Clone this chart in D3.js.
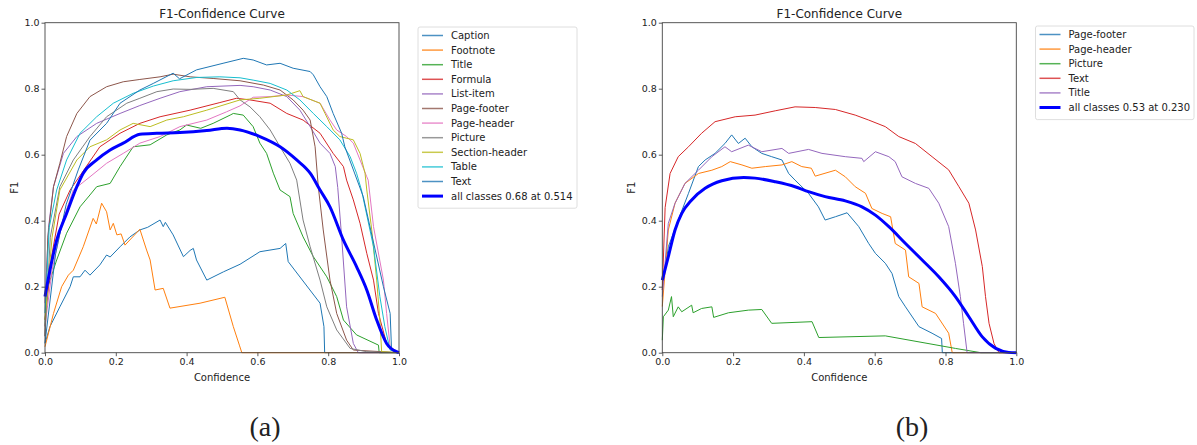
<!DOCTYPE html>
<html>
<head>
<meta charset="utf-8">
<script src="https://cdn.jsdelivr.net/npm/d3@7"></script>
<style>
    body { margin: 0; background: #fff; }
    svg text { font-family: "DejaVu Sans", sans-serif; fill: #222; }
    .caption { font-family: "Liberation Serif", "DejaVu Serif", serif; }
</style>
</head>
<body>
<svg id="chart" width="1197" height="445"></svg>
<script>
// ---- panel (a) data: [confidence, F1]
const captionA = [[0,0.028],[0.014,0.079],[0.042,0.139],[0.071,0.2],[0.08,0.23],[0.099,0.23],[0.113,0.25],[0.127,0.235],[0.155,0.266],[0.174,0.296],[0.184,0.29],[0.212,0.321],[0.24,0.351],[0.268,0.372],[0.29,0.38],[0.325,0.402],[0.334,0.382],[0.34,0.395],[0.362,0.357],[0.391,0.291],[0.41,0.31],[0.419,0.316],[0.428,0.281],[0.457,0.22],[0.504,0.245],[0.551,0.268],[0.607,0.306],[0.664,0.316],[0.68,0.331],[0.687,0.276],[0.777,0.15],[0.788,0.079],[0.79,0],[1.0,0]];
const footnoteA = [[0,0.018],[0.024,0.119],[0.047,0.2],[0.066,0.235],[0.08,0.25],[0.108,0.321],[0.136,0.407],[0.145,0.39],[0.16,0.453],[0.174,0.427],[0.184,0.372],[0.193,0.392],[0.203,0.357],[0.215,0.36],[0.226,0.326],[0.268,0.374],[0.287,0.311],[0.297,0.281],[0.311,0.19],[0.334,0.195],[0.353,0.135],[0.438,0.15],[0.508,0.168],[0.532,0.079],[0.549,0.023],[0.556,0],[1.0,0]];
const titleA = [[0,0.08],[0.005,0.19],[0.033,0.281],[0.061,0.362],[0.099,0.442],[0.127,0.478],[0.146,0.503],[0.184,0.513],[0.212,0.564],[0.249,0.624],[0.297,0.63],[0.344,0.66],[0.381,0.675],[0.4,0.69],[0.44,0.68],[0.475,0.695],[0.523,0.72],[0.532,0.725],[0.56,0.72],[0.588,0.685],[0.607,0.635],[0.626,0.604],[0.645,0.544],[0.664,0.493],[0.692,0.473],[0.701,0.422],[0.729,0.351],[0.758,0.291],[0.796,0.23],[0.824,0.17],[0.843,0.099],[0.88,0.054],[0.942,0.023],[0.944,0],[1.0,0]];
const formulaA = [[0,0.1],[0.02,0.3],[0.04,0.42],[0.071,0.493],[0.155,0.624],[0.212,0.665],[0.268,0.695],[0.325,0.715],[0.41,0.735],[0.494,0.758],[0.541,0.771],[0.579,0.766],[0.636,0.756],[0.683,0.725],[0.729,0.705],[0.777,0.665],[0.814,0.604],[0.843,0.564],[0.852,0.523],[0.871,0.463],[0.89,0.392],[0.909,0.301],[0.928,0.22],[0.942,0.119],[0.965,0.028],[0.984,0.003],[1.0,0]];
const listItemA = [[0,0.15],[0.01,0.38],[0.024,0.503],[0.052,0.604],[0.09,0.655],[0.146,0.695],[0.212,0.725],[0.268,0.749],[0.325,0.771],[0.381,0.791],[0.457,0.806],[0.551,0.81],[0.588,0.806],[0.636,0.796],[0.683,0.776],[0.72,0.735],[0.749,0.685],[0.777,0.635],[0.805,0.604],[0.82,0.564],[0.827,0.5],[0.838,0.35],[0.852,0.139],[0.871,0.028],[0.885,0],[1.0,0]];
const pageFooterA = [[0,0.05],[0.008,0.35],[0.024,0.503],[0.042,0.574],[0.061,0.655],[0.09,0.725],[0.127,0.776],[0.174,0.806],[0.221,0.821],[0.268,0.828],[0.325,0.836],[0.362,0.844],[0.41,0.836],[0.475,0.831],[0.551,0.824],[0.617,0.811],[0.664,0.796],[0.701,0.766],[0.729,0.735],[0.749,0.705],[0.763,0.624],[0.772,0.503],[0.786,0.372],[0.805,0.22],[0.824,0.119],[0.852,0.038],[0.871,0.008],[1.0,0]];
const pageHeaderA = [[0,0.08],[0.02,0.25],[0.05,0.4],[0.08,0.493],[0.127,0.533],[0.174,0.574],[0.221,0.604],[0.268,0.635],[0.325,0.655],[0.381,0.685],[0.457,0.705],[0.513,0.73],[0.551,0.748],[0.588,0.774],[0.636,0.776],[0.683,0.781],[0.729,0.776],[0.777,0.756],[0.805,0.705],[0.824,0.675],[0.852,0.655],[0.871,0.635],[0.89,0.584],[0.909,0.533],[0.913,0.523],[0.928,0.382],[0.956,0.22],[0.965,0.119],[0.975,0.018],[1.0,0]];
const pictureA = [[0,0.05],[0.015,0.35],[0.042,0.503],[0.08,0.584],[0.127,0.655],[0.174,0.715],[0.231,0.756],[0.268,0.771],[0.316,0.791],[0.362,0.799],[0.41,0.798],[0.475,0.801],[0.532,0.791],[0.551,0.766],[0.579,0.745],[0.607,0.715],[0.636,0.675],[0.664,0.624],[0.692,0.574],[0.711,0.523],[0.729,0.402],[0.749,0.321],[0.777,0.22],[0.796,0.139],[0.824,0.069],[0.862,0.013],[0.909,0.003],[1.0,0]];
const sectionHeaderA = [[0,0.1],[0.02,0.35],[0.042,0.493],[0.09,0.584],[0.127,0.624],[0.174,0.645],[0.212,0.675],[0.249,0.695],[0.297,0.685],[0.344,0.705],[0.391,0.715],[0.457,0.735],[0.551,0.766],[0.607,0.771],[0.683,0.781],[0.72,0.794],[0.729,0.776],[0.777,0.756],[0.791,0.725],[0.814,0.675],[0.833,0.655],[0.871,0.645],[0.89,0.604],[0.904,0.544],[0.909,0.493],[0.923,0.372],[0.937,0.22],[0.946,0.099],[0.951,0.003],[1.0,0]];
const tableA = [[0,0.12],[0.012,0.38],[0.033,0.493],[0.061,0.584],[0.099,0.665],[0.146,0.715],[0.193,0.756],[0.249,0.786],[0.306,0.808],[0.362,0.824],[0.428,0.834],[0.494,0.836],[0.551,0.833],[0.588,0.826],[0.636,0.816],[0.683,0.796],[0.72,0.766],[0.758,0.725],[0.796,0.685],[0.833,0.645],[0.862,0.594],[0.88,0.544],[0.894,0.493],[0.928,0.321],[0.946,0.17],[0.96,0.079],[0.975,0.008],[1.0,0]];
const textA = [[0,0.03],[0.03,0.3],[0.06,0.45],[0.094,0.554],[0.127,0.644],[0.174,0.695],[0.212,0.756],[0.268,0.796],[0.306,0.816],[0.362,0.847],[0.38,0.83],[0.428,0.857],[0.503,0.877],[0.56,0.892],[0.588,0.887],[0.626,0.872],[0.664,0.877],[0.701,0.862],[0.749,0.852],[0.758,0.842],[0.777,0.806],[0.796,0.776],[0.814,0.725],[0.838,0.665],[0.847,0.624],[0.899,0.473],[0.956,0.2],[0.975,0.119],[0.979,0.008],[1.0,0]];
const allClassesA = [[0,0.17],[0.014,0.25],[0.033,0.341],[0.061,0.422],[0.09,0.503],[0.108,0.544],[0.146,0.584],[0.184,0.614],[0.221,0.635],[0.268,0.662],[0.316,0.665],[0.381,0.667],[0.457,0.673],[0.514,0.68],[0.551,0.675],[0.607,0.655],[0.664,0.624],[0.711,0.584],[0.749,0.544],[0.777,0.493],[0.805,0.442],[0.843,0.341],[0.88,0.261],[0.909,0.19],[0.937,0.099],[0.965,0.028],[0.993,0.003],[1.0,0]];

// ---- panel (b) data
const pageFooterB = [[0,0.19],[0.017,0.321],[0.045,0.402],[0.074,0.483],[0.102,0.564],[0.121,0.584],[0.149,0.604],[0.177,0.634],[0.196,0.66],[0.215,0.634],[0.234,0.65],[0.253,0.624],[0.281,0.604],[0.309,0.594],[0.338,0.584],[0.357,0.543],[0.375,0.523],[0.413,0.483],[0.441,0.442],[0.46,0.402],[0.489,0.412],[0.522,0.424],[0.555,0.382],[0.583,0.331],[0.602,0.301],[0.63,0.271],[0.649,0.24],[0.668,0.17],[0.687,0.139],[0.725,0.079],[0.762,0.059],[0.789,0.043],[0.791,0],[1.0,0]];
const pageHeaderB = [[0,0.14],[0.017,0.372],[0.036,0.453],[0.064,0.513],[0.102,0.543],[0.14,0.553],[0.168,0.564],[0.192,0.579],[0.225,0.569],[0.253,0.559],[0.291,0.564],[0.338,0.569],[0.366,0.579],[0.394,0.564],[0.421,0.559],[0.432,0.535],[0.489,0.553],[0.517,0.533],[0.545,0.503],[0.574,0.483],[0.592,0.437],[0.621,0.422],[0.645,0.412],[0.658,0.331],[0.687,0.311],[0.696,0.23],[0.725,0.21],[0.734,0.139],[0.772,0.119],[0.809,0.059],[0.819,0],[1.0,0]];
const pictureB = [[0,0.038],[0.003,0.109],[0.017,0.129],[0.026,0.17],[0.031,0.109],[0.045,0.139],[0.055,0.124],[0.083,0.144],[0.087,0.121],[0.111,0.134],[0.14,0.139],[0.145,0.107],[0.187,0.121],[0.243,0.129],[0.281,0.131],[0.309,0.089],[0.423,0.094],[0.442,0.046],[0.63,0.051],[0.828,0.013],[0.9,0],[1.0,0]];
const textB = [[0,0.19],[0.008,0.44],[0.022,0.543],[0.045,0.594],[0.074,0.624],[0.111,0.665],[0.149,0.7],[0.206,0.715],[0.262,0.72],[0.319,0.733],[0.375,0.745],[0.432,0.743],[0.489,0.737],[0.545,0.72],[0.583,0.705],[0.63,0.685],[0.668,0.655],[0.715,0.634],[0.762,0.594],[0.809,0.554],[0.838,0.503],[0.866,0.453],[0.885,0.372],[0.904,0.261],[0.913,0.17],[0.923,0.089],[0.937,0.028],[0.951,0],[1.0,0]];
const titleB = [[0,0.17],[0.017,0.392],[0.036,0.453],[0.064,0.513],[0.102,0.553],[0.14,0.594],[0.177,0.624],[0.196,0.609],[0.243,0.629],[0.281,0.609],[0.338,0.619],[0.357,0.604],[0.413,0.616],[0.451,0.604],[0.517,0.594],[0.564,0.589],[0.569,0.579],[0.602,0.609],[0.64,0.594],[0.658,0.579],[0.677,0.533],[0.715,0.513],[0.753,0.498],[0.781,0.453],[0.809,0.382],[0.828,0.271],[0.842,0.17],[0.851,0.089],[0.861,0],[1.0,0]];
const allClassesB = [[0,0.22],[0.017,0.291],[0.036,0.372],[0.055,0.422],[0.083,0.463],[0.121,0.498],[0.168,0.521],[0.23,0.531],[0.262,0.529],[0.319,0.518],[0.375,0.503],[0.413,0.488],[0.46,0.473],[0.517,0.46],[0.564,0.442],[0.602,0.417],[0.64,0.382],[0.687,0.331],[0.734,0.281],[0.781,0.23],[0.828,0.17],[0.866,0.109],[0.904,0.048],[0.942,0.013],[0.979,0.001],[1.0,0]];

const ticks = [0, 0.2, 0.4, 0.6, 0.8, 1.0];
const classColours = ["#1f77b4", "#ff7f0e", "#2ca02c", "#d62728", "#9467bd", "#8c564b", "#e377c2", "#7f7f7f", "#bcbd22", "#17becf"];

const seriesA = [
    { name: "Caption", data: captionA },
    { name: "Footnote", data: footnoteA },
    { name: "Title", data: titleA },
    { name: "Formula", data: formulaA },
    { name: "List-item", data: listItemA },
    { name: "Page-footer", data: pageFooterA },
    { name: "Page-header", data: pageHeaderA },
    { name: "Picture", data: pictureA },
    { name: "Section-header", data: sectionHeaderA },
    { name: "Table", data: tableA },
    { name: "Text", data: textA }
];
const seriesB = [
    { name: "Page-footer", data: pageFooterB },
    { name: "Page-header", data: pageHeaderB },
    { name: "Picture", data: pictureB },
    { name: "Text", data: textB },
    { name: "Title", data: titleB }
];

const svg = d3.select("#chart");

function drawPanel(opts) {
    let x = d3.scaleLinear().domain([0, 1]).range([opts.left, opts.left + 354]);
    let y = d3.scaleLinear().domain([0, 1]).range([352.7, 22.7]);
    let g = svg.append("g");

    let clipId = "clip" + opts.tag;
    g.append("clipPath").attr("id", clipId)
        .append("rect")
        .attr("x", x(0) - 2).attr("y", y(1))
        .attr("width", x(1) - x(0) + 4).attr("height", y(0) - y(1) + 2);

    let line = d3.line().x(d => x(d[0])).y(d => y(d[1]));
    let smooth = d3.line().x(d => x(d[0])).y(d => y(d[1])).curve(d3.curveMonotoneX);
    let curves = g.append("g").attr("clip-path", `url(#${clipId})`);

    opts.series.forEach((s, i) => {
        curves.append("path")
            .datum(s.data)
            .attr("d", line)
            .attr("fill", "none")
            .attr("stroke", classColours[i % 10])
            .attr("stroke-width", 1)
            .attr("stroke-linejoin", "round");
    });
    curves.append("path")
        .datum(opts.all.data)
        .attr("d", smooth)
        .attr("fill", "none")
        .attr("stroke", "#0000ff")
        .attr("stroke-width", 3)
        .attr("stroke-linejoin", "round");

    // axes
    let xAxis = d3.axisBottom(x).tickValues(ticks).tickFormat(d3.format(".1f")).tickSize(3.5).tickPadding(2);
    let yAxis = d3.axisLeft(y).tickValues(ticks).tickFormat(d3.format(".1f")).tickSize(3.5).tickPadding(2);
    let gx = g.append("g").attr("transform", `translate(0,${y(0)})`).call(xAxis);
    let gy = g.append("g").attr("transform", `translate(${x(0)},0)`).call(yAxis);
    [gx, gy].forEach(a => {
        a.select(".domain").remove();
        a.selectAll(".tick line").attr("stroke", "#333").attr("stroke-width", 0.8);
        a.selectAll(".tick text")
            .style("font-family", "DejaVu Sans, sans-serif")
            .style("font-size", "9.5px").attr("fill", "#222");
    });

    g.append("rect")
        .attr("x", x(0)).attr("y", y(1))
        .attr("width", x(1) - x(0)).attr("height", y(0) - y(1))
        .attr("fill", "none").attr("stroke", "#444").attr("stroke-width", 0.9);

    g.append("text")
        .attr("x", (x(0) + x(1)) / 2).attr("y", 17.5)
        .attr("text-anchor", "middle")
        .style("font-size", "12px")
        .text("F1-Confidence Curve");
    g.append("text")
        .attr("x", (x(0) + x(1)) / 2).attr("y", 381)
        .attr("text-anchor", "middle")
        .style("font-size", "10px")
        .text("Confidence");
    g.append("text")
        .attr("transform", `translate(${x(0) - 27},${(y(0) + y(1)) / 2}) rotate(-90)`)
        .attr("text-anchor", "middle")
        .style("font-size", "10px")
        .text("F1");

    // legend
    let entries = opts.series.map((s, i) => ({ name: s.name, colour: classColours[i % 10], w: 1.5 }));
    entries.push({ name: opts.all.name, colour: "#0000ff", w: 3 });
    let lg = g.append("g").attr("transform", `translate(${opts.legendX},${opts.legendY})`);
    lg.append("rect")
        .attr("x", 0).attr("y", 0)
        .attr("width", opts.legendW).attr("height", entries.length * 14.6 + 6)
        .attr("rx", 2)
        .attr("fill", "#fff").attr("stroke", "#d5d5d5").attr("stroke-width", 0.8);
    entries.forEach((e, i) => {
        let cy = 8.5 + i * 14.6;
        lg.append("line")
            .attr("x1", 4).attr("x2", 25).attr("y1", cy).attr("y2", cy)
            .attr("stroke", e.colour).attr("stroke-width", e.w)
            .attr("stroke-opacity", e.w > 2 ? 1 : 0.8);
        lg.append("text")
            .attr("x", 33).attr("y", cy + 3.5)
            .style("font-size", "10px")
            .text(e.name);
    });

    svg.append("text")
        .attr("class", "caption")
        .attr("x", opts.captionX).attr("y", 436)
        .attr("text-anchor", "middle")
        .style("font-size", "28px")
        .text(opts.caption);
}

drawPanel({
    tag: "a", left: 45, series: seriesA,
    all: { name: "all classes 0.68 at 0.514", data: allClassesA },
    legendX: 418, legendY: 27, legendW: 159,
    caption: "(a)", captionX: 265
});
drawPanel({
    tag: "b", left: 662.3, series: seriesB,
    all: { name: "all classes 0.53 at 0.230", data: allClassesB },
    legendX: 1035.5, legendY: 26, legendW: 158.5,
    caption: "(b)", captionX: 912
});
</script>
</body>
</html>
